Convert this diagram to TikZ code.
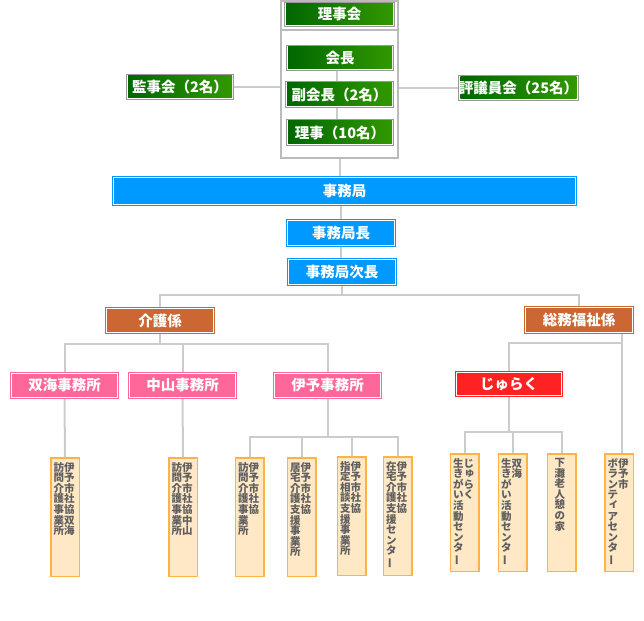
\documentclass[tikz,border=0pt]{standalone}
\usepackage{fontspec}
\newfontfamily\jp{Noto Sans CJK JP}
\usetikzlibrary{backgrounds}
\definecolor{gL}{HTML}{006600}
\definecolor{gR}{HTML}{339900}
\definecolor{gborder}{HTML}{999999}
\definecolor{blueC}{HTML}{0099FF}
\definecolor{brownC}{HTML}{CC6633}
\definecolor{pinkC}{HTML}{FF6699}
\definecolor{redC}{HTML}{FF2222}
\definecolor{peach}{HTML}{FFE8C6}
\definecolor{peachB}{HTML}{FFB347}
\definecolor{linkC}{HTML}{CCCCCC}
\definecolor{frameC}{HTML}{BBBBBB}
\definecolor{vtextC}{HTML}{5F5F5F}
\ExplSyntaxOn
\cs_new_protected:Npn \vt_char:n #1
  {
    \str_case:nnF {#1}
      {
        {ー}{\hbox_to_wd:nn {1em} {\hss\rotatebox[origin=c]{90}{ー}\hss}}
        {ゅ}{\hbox_to_wd:nn {1em} {\hss\kern.15em\raise.15em\hbox{ゅ}\hss}}
        {ィ}{\hbox_to_wd:nn {1em} {\hss\kern.15em\raise.15em\hbox{ィ}\hss}}
        {ァ}{\hbox_to_wd:nn {1em} {\hss\kern.15em\raise.15em\hbox{ァ}\hss}}
      }
      { \hbox_to_wd:nn {1em} {\hss #1\hss} }
  }
\NewDocumentCommand \vcol { m }
  { \vtop { \baselineskip=10.6pt \lineskiplimit=-100pt \tl_map_inline:nn {#1} { \vt_char:n {##1} } } }
\ExplSyntaxOff
\newcommand\vpair[2]{\hbox{\vcol{#1}\vcol{#2}}}
\begin{document}
\begin{tikzpicture}[x=1pt,y=-1pt,
  hfont/.style={font={\jp\bfseries\fontsize{14.5}{15}\selectfont}, text=white, inner sep=0pt},
  gbox/.style={hfont, draw=gborder, fill=white, line width=1pt,
    path picture={\shade[left color=gL, right color=gR]
      ([shift={(1.5pt,1.5pt)}]path picture bounding box.south west) rectangle
      ([shift={(-1.5pt,-1.5pt)}]path picture bounding box.north east);}},
  cbox/.style={hfont, draw=#1, fill=#1, line width=1pt, double=white, double distance=1pt},
  tallbox/.style={draw=peachB, fill=peach, line width=1.5pt, minimum width=28.5pt, minimum height=118.5pt, inner sep=0pt},
  vtext/.style={anchor=north west, inner sep=0pt, text=vtextC, font={\jp\bfseries\fontsize{10.5}{10.6}\selectfont}},
  link/.style={draw=linkC, line width=2pt},
  frameline/.style={draw=frameC, line width=1.5pt}]
\useasboundingbox (0,0) rectangle (644,620);

% board frame
\node[frameline, minimum width=117pt, minimum height=157pt, inner sep=0pt] (frame) at (339.5,79.5) {};
\coordinate (div) at (0,30);

% green
\node[gbox, minimum width=110pt, minimum height=24pt] (rijikai) at (339.5,14.5) {理事会};
\node[gbox, minimum width=107pt, minimum height=25pt] (kaicho) at (340,58) {会長};
\node[gbox, minimum width=108pt, minimum height=26pt] (fuku) at (339.5,94.5) {副会長（2名）};
\node[gbox, minimum width=107pt, minimum height=26pt] (riji) at (340,132.5) {理事（10名）};
\node[gbox, minimum width=107pt, minimum height=25pt] (kanji) at (180,87) {監事会（2名）};
\node[gbox, minimum width=112pt, minimum height=25pt] (hyogi) at (518.5,88) {評議員会（25名）};

% blue
\node[cbox=blueC, line width=1.3pt, minimum width=461.4pt, minimum height=26.4pt] (jimu) at (344.5,191) {事務局};
\node[cbox=blueC, minimum width=107pt, minimum height=25pt] (jimucho) at (341,233) {事務局長};
\node[cbox=blueC, minimum width=107pt, minimum height=25pt] (jijicho) at (342,272) {事務局次長};

% brown
\node[cbox=brownC, minimum width=107pt, minimum height=24pt] (kaigo) at (160,320.5) {介護係};
\node[cbox=brownC, minimum width=107pt, minimum height=25pt] (somu) at (579,320) {総務福祉係};

% pink / red
\node[cbox=pinkC, minimum width=106pt, minimum height=24pt] (futami) at (64.5,385.5) {双海事務所};
\node[cbox=pinkC, minimum width=106pt, minimum height=24pt] (nakayama) at (182.5,385.5) {中山事務所};
\node[cbox=pinkC, minimum width=106pt, minimum height=24pt] (iyo) at (327.5,385.5) {伊予事務所};
\node[cbox=redC, minimum width=105pt, minimum height=23pt] (juraku) at (509,384) {じゅらく};

% tall boxes
\node[tallbox] (b1) at (65,517) {};
\node[tallbox] (b2) at (183,517) {};
\node[tallbox] (b3) at (249.5,517) {};
\node[tallbox] (b4) at (301.5,517) {};
\node[tallbox] (b5) at (351.5,516) {};
\node[tallbox] (b6) at (397.5,516) {};
\node[tallbox, minimum height=117.5pt] (b7) at (464.5,512.5) {};
\node[tallbox, minimum height=117.5pt] (b8) at (512.5,512.5) {};
\node[tallbox, minimum height=117.5pt] (b9) at (561.5,512.5) {};
\node[tallbox, minimum height=117.5pt] (b10) at (619,512.5) {};

\node[vtext] (t1) at ([shift={(3.5pt,-5pt)}]b1.north west) {\vpair{訪問介護事業所}{伊予市社協双海}};
\node[vtext] (t2) at ([shift={(3.5pt,-5pt)}]b2.north west) {\vpair{訪問介護事業所}{伊予市社協中山}};
\node[vtext] (t3) at ([shift={(3.5pt,-5pt)}]b3.north west) {\vpair{訪問介護事業所}{伊予市社協}};
\node[vtext] (t4) at ([shift={(3.5pt,-5pt)}]b4.north west) {\vpair{居宅介護支援事業所}{伊予市社協}};
\node[vtext] (t5) at ([shift={(3.5pt,-5pt)}]b5.north west) {\vpair{指定相談支援事業所}{伊予市社協}};
\node[vtext] (t6) at ([shift={(3.5pt,-5pt)}]b6.north west) {\vpair{在宅介護支援センター}{伊予市社協}};
\node[vtext] (t7) at ([shift={(3.5pt,-5pt)}]b7.north west) {\vpair{生きがい活動センター}{じゅらく}};
\node[vtext] (t8) at ([shift={(3.5pt,-5pt)}]b8.north west) {\vpair{生きがい活動センター}{双海}};
\node[vtext] (t9) at ([shift={(8pt,-5pt)}]b9.north west) {\vcol{下灘老人憩の家}};
\node[vtext] (t10) at ([shift={(3.5pt,-5pt)}]b10.north west) {\vpair{ボランティアセンター}{伊予市}};

\coordinate (br1) at (0,295);
\coordinate (br2) at (0,344);
\coordinate (br3) at (0,343);
\coordinate (br4) at (0,437);
\coordinate (br5) at (0,432);
\coordinate (vx) at (622,0);

\begin{scope}[on background layer]
\draw[frameline] (frame.west |- div) -- (frame.east |- div);
\draw[link] (kanji.east) -- (kanji.east -| frame.west);
\draw[link] (hyogi.west) -- (hyogi.west -| frame.east);
\draw[link] ([xshift=-3pt]kaicho.south) -- ([xshift=-3pt]riji.north);
\draw[link] (frame.south) -- (frame.south |- jimu.north);
\draw[link] (jimucho.north |- jimu.south) -- (jimucho.north);
\draw[link] (jimucho.south) -- (jimucho.south |- jijicho.north);
\draw[link] (jijicho.south) -- (jijicho.south |- br1);
\draw[link] (kaigo.north) |- (somu.north |- br1) -- (somu.north);
\draw[link] (kaigo.south) -- (kaigo.south |- br2);
\draw[link] (futami.north) |- (iyo.north |- br2) -- (iyo.north);
\draw[link] (nakayama.north) -- (nakayama.north |- br2);
\draw[link] (somu.south -| vx) -- (b10.north -| vx);
\draw[link] (juraku.north) |- (br3 -| vx);
\draw[link] (futami.south) -- (b1.north);
\draw[link] (nakayama.south) -- (b2.north);
\draw[link] (iyo.south) -- (iyo.south |- br4);
\draw[link] (b3.north) |- (b6.north |- br4) -- (b6.north);
\draw[link] (b4.north) -- (b4.north |- br4);
\draw[link] (b5.north) -- (b5.north |- br4);
\draw[link] (juraku.south) -- (juraku.south |- br5);
\draw[link] (b7.north) |- (b9.north |- br5) -- (b9.north);
\draw[link] (b8.north) -- (b8.north |- br5);
\end{scope}
\end{tikzpicture}
\end{document}
